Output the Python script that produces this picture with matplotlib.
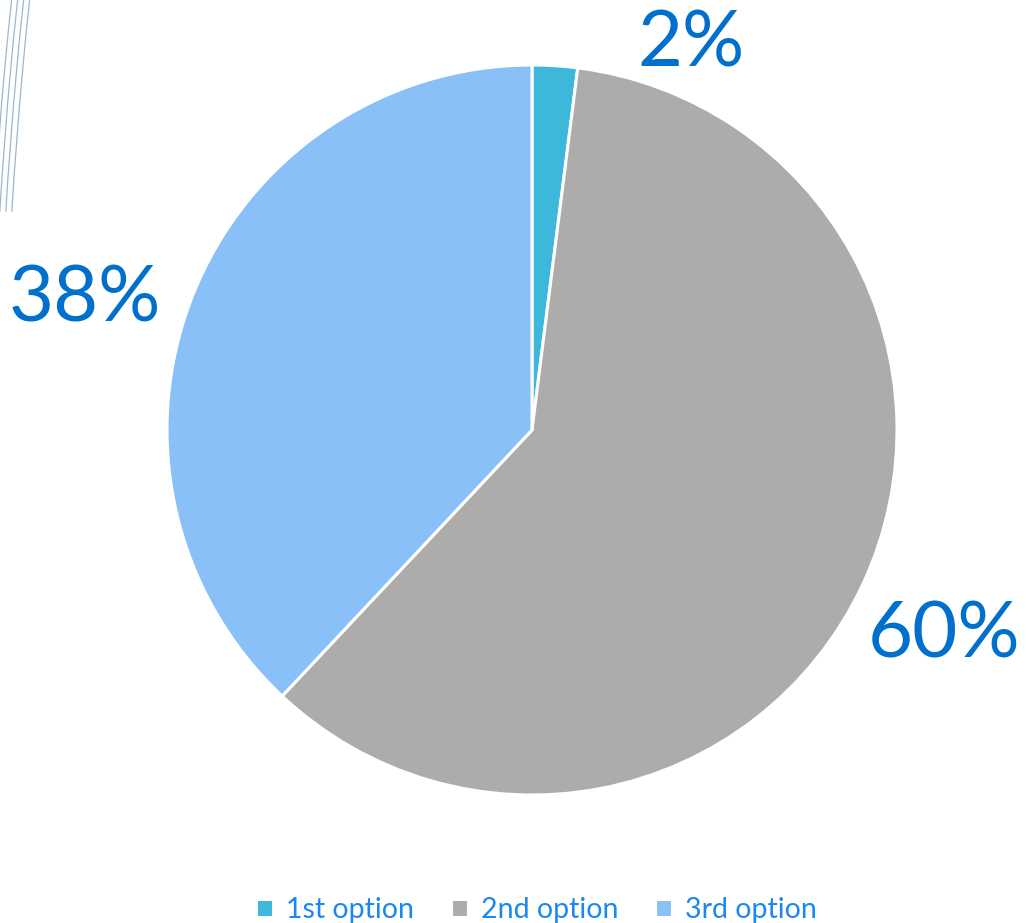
import matplotlib.pyplot as plt
from matplotlib.patches import Arc

labels = ["1st option", "2nd option", "3rd option"]
shares = [2, 60, 38]
colors = ["#3DB8DA", "#ADACAB", "#89C0F8"]
label_pos = [(0.435, 1.055), (1.13, -0.565), (-1.225, 0.355)]

plt.rcParams["font.family"] = ["Lato", "DejaVu Sans"]

fig = plt.figure(figsize=(10.26, 9.23), dpi=100)

# faint decorative arcs at the top-left edge
deco = fig.add_axes([0, 0, 1, 1])
deco.set_xlim(0, 1026)
deco.set_ylim(923, 0)
deco.axis("off")
for dx in (-4, 2, 8, 14):
    deco.add_patch(Arc((4711 + dx, 500), 2 * 4722, 2 * 4722, theta1=183.5,
                       theta2=187, color="#9DB7CC", lw=0.9))

ax = fig.add_axes([167 / 1026, 128 / 923, 730 / 1026, 730 / 923])
wedges, _ = ax.pie(shares, colors=colors, startangle=90, counterclock=False,
                   radius=1, wedgeprops=dict(edgecolor="white", linewidth=2.2))
ax.set_xlim(-1, 1)
ax.set_ylim(-1, 1)
ax.set_aspect("equal")

for v, (x, y) in zip(shares, label_pos):
    ax.text(x, y, f"{v}%", ha="center", va="center", fontsize=56,
            color="#0070CC", clip_on=False)

fig.legend(wedges, labels, loc="lower center", bbox_to_anchor=(0.523, -0.028),
           ncol=3, frameon=False, fontsize=20.5, handlelength=0.6, handleheight=0.6,
           handletextpad=0.45, columnspacing=1.3, labelcolor="#1A88F0")

fig.savefig("out.png", dpi=100)
